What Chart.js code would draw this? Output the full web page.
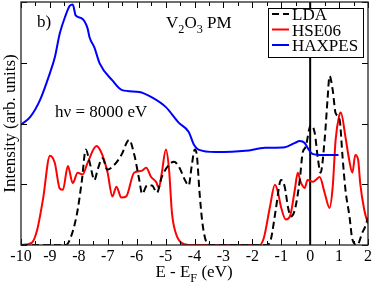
<!DOCTYPE html>
<html>
<head>
<meta charset="utf-8">
<script src="https://cdn.jsdelivr.net/npm/chart.js@4.4.1/dist/chart.umd.min.js"></script>
<style>
  html, body { margin: 0; padding: 0; background: #fff; }
</style>
</head>
<body>
<canvas id="dosChart" width="374" height="284"></canvas>
<script>
// LDA (black dashed)
const ldaE = [-10, -8.45, -8.31, -8.07, -7.90, -7.76, -7.63, -7.46, -7.35, -7.18, -7.01, -6.77, -6.53, -6.26, -6.08,
  -5.91, -5.81, -5.64, -5.47, -5.30, -5.13, -4.88, -4.71, -4.54, -4.30, -4.20, -4.10, -3.99, -3.92, -3.82,
  -3.72, -3.58, -3.44, -1.5, -1.36, -1.19, -1.01, -0.88, -0.77, -0.67, -0.53, -0.36, -0.26, -0.16, 0.02,
  0.16, 0.26, 0.36, 0.50, 0.60, 0.67, 0.78, 0.88, 1.02, 1.12, 1.22, 1.36, 1.46, 1.63, 1.80, 1.90, 2.0];
const ldaI = [0, 0, 0.09, 0.50, 1.04, 1.57, 1.37, 1.07, 1.24, 1.43, 1.24, 1.32, 1.48, 1.73, 1.48,
  1.07, 0.84, 0.98, 0.98, 0.86, 1.12, 1.32, 1.37, 1.29, 1.04, 0.98, 1.29, 1.57, 1.48, 0.83,
  0.34, 0.04, 0, 0, 0.09, 0.58, 1.07, 0.96, 0.63, 0.47, 0.58, 1.07, 1.52, 1.61, 1.97,
  1.84, 1.45, 1.19, 1.73, 2.39, 2.78, 2.55, 2.17, 2.06, 1.45, 0.91, 0.47, 0.09, 0, 0.20, 0.30, 0.45];

// HSE06 (red)
const hseE = [-10, -9.62, -9.44, -9.24, -9.0, -8.83, -8.66, -8.55, -8.38, -8.21, -8.04, -7.87, -7.70, -7.39, -7.22,
  -7.01, -6.84, -6.70, -6.53, -6.36, -6.09, -5.84, -5.67, -5.50, -5.33, -5.23, -5.13, -4.99, -4.88, -4.78,
  -4.65, -4.47, -4.2, -1.75, -1.6, -1.39, -1.22, -1.12, -1.01, -0.84, -0.70, -0.53, -0.43, -0.33, -0.19,
  -0.09, 0.09, 0.19, 0.33, 0.50, 0.67, 0.78, 0.88, 1.0, 1.06, 1.22, 1.35, 1.46, 1.56, 1.66, 1.73, 1.87, 2.0];
const hseI = [0, 0.04, 0.25, 0.75, 1.47, 1.35, 0.93, 0.91, 1.30, 1.02, 1.19, 1.16, 1.35, 1.63, 1.52,
  1.20, 0.80, 0.96, 0.78, 0.80, 1.19, 1.22, 1.27, 1.12, 1.04, 0.94, 1.19, 1.57, 1.24, 0.53,
  0.20, 0.04, 0, 0, 0.12, 0.63, 0.99, 0.88, 0.63, 0.42, 0.47, 0.91, 1.19, 1.04, 0.94,
  1.07, 1.04, 1.07, 1.12, 0.86, 0.61, 0.96, 1.73, 2.12, 2.18, 1.78, 1.40, 1.19, 1.48, 1.40, 1.02, 0.58, 0.35];

// HAXPES (blue)
const haxE = [-10, -9.68, -9.34, -9.0, -8.83, -8.66, -8.48, -8.31, -8.21, -8.11, -7.90, -7.70, -7.63, -7.46, -7.28,
  -6.84, -6.50, -5.91, -5.47, -4.99, -4.54, -4.20, -4.02, -3.86, -3.27, -2.24, -1.56, -0.87, -0.53, -0.36,
  -0.19, -0.05, 0.08, 0.43, 0.98];
const haxI = [1.98, 2.11, 2.39, 2.83, 3.09, 3.48, 3.75, 3.94, 3.96, 3.78, 3.73, 3.57, 3.42, 3.25, 2.99,
  2.71, 2.55, 2.52, 2.43, 2.27, 2.01, 1.86, 1.65, 1.57, 1.53, 1.55, 1.60, 1.61, 1.68, 1.71,
  1.68, 1.57, 1.50, 1.48, 1.48];

// Fermi level marker
const fermiE = [0, 0];
const fermiI = [0, 4];

const xTicks = [-10, -9, -8, -7, -6, -5, -4, -3, -2, -1, 0, 1, 2];

const serif = '"Liberation Serif", "DejaVu Serif", serif';

function pts(xs, ys) {
    return xs.map((v, i) => ({ x: v, y: ys[i] }));
}

// draws pieces of text, some as subscripts, starting at x
function richText(ctx, parts, x, y, size) {
    let cx = x;
    parts.forEach(p => {
        const s = p.sub ? size * 0.72 : size;
        ctx.font = s + 'px ' + serif;
        ctx.fillText(p.t, cx, p.sub ? y + size * 0.28 : y);
        cx += ctx.measureText(p.t).width;
    });
    return cx - x;
}
function richWidth(ctx, parts, size) {
    let w = 0;
    parts.forEach(p => {
        ctx.font = (p.sub ? size * 0.72 : size) + 'px ' + serif;
        w += ctx.measureText(p.t).width;
    });
    return w;
}

const decor = {
    id: 'decor',
    afterDatasetsDraw(chart) {
        const ctx = chart.ctx, a = chart.chartArea;
        const xs = chart.scales.x, ys = chart.scales.y;
        ctx.save();
        ctx.strokeStyle = '#000';
        ctx.lineWidth = 1;
        ctx.beginPath();
        for (let v = -10; v <= 2.001; v += 0.5) {
            const px = Math.round(xs.getPixelForValue(v)) + 0.5;
            const len = Math.abs(v - Math.round(v)) < 0.01 ? 6 : 4;
            ctx.moveTo(px, a.bottom); ctx.lineTo(px, a.bottom - len);
            ctx.moveTo(px, a.top); ctx.lineTo(px, a.top + len);
        }
        for (let v = 0; v <= 4; v++) {
            const py = Math.round(ys.getPixelForValue(v)) + 0.5;
            ctx.moveTo(a.left, py); ctx.lineTo(a.left + 6, py);
            ctx.moveTo(a.right, py); ctx.lineTo(a.right - 6, py);
        }
        ctx.stroke();
        ctx.lineWidth = 1.3;
        ctx.strokeStyle = '#222';
        ctx.strokeRect(a.left, a.top, a.right - a.left, a.bottom - a.top);

        // labels
        ctx.fillStyle = '#000';
        ctx.textBaseline = 'alphabetic';
        ctx.textAlign = 'left';
        ctx.font = '17px ' + serif;
        ctx.fillText('b)', 37, 27);
        richText(ctx, [{ t: 'V' }, { t: '2', sub: true }, { t: 'O' }, { t: '3', sub: true }, { t: ' PM' }], 166, 28, 17);
        ctx.font = '17px ' + serif;
        ctx.fillText('h\u03BD = 8000 eV', 55, 117);

        // x axis title with subscript
        const title = [{ t: 'E - E' }, { t: 'F', sub: true }, { t: ' (eV)' }];
        const tw = richWidth(ctx, title, 17);
        richText(ctx, title, 194 - tw / 2, 277, 17);

        // legend box
        ctx.fillStyle = '#fff';
        ctx.fillRect(268, 8, 95, 49);
        ctx.lineWidth = 1;
        ctx.strokeStyle = '#000';
        ctx.strokeRect(268.5, 8.5, 95, 49);
        const items = chart.data.datasets.filter(d => d.label);
        items.forEach((d, i) => {
            const yy = 19 + i * 15.5;
            ctx.beginPath();
            ctx.strokeStyle = d.borderColor;
            ctx.lineWidth = 2;
            ctx.setLineDash(d.borderDash || []);
            ctx.moveTo(272, yy - 5);
            ctx.lineTo(289, yy - 5);
            ctx.stroke();
            ctx.setLineDash([]);
            ctx.fillStyle = '#000';
            ctx.font = '17px ' + serif;
            ctx.fillText(d.label, 292, yy + 1);
        });
        ctx.restore();
    }
};

new Chart(document.getElementById('dosChart').getContext('2d'), {
    type: 'scatter',
    data: {
        datasets: [
            { label: '', data: pts(fermiE, fermiI), borderColor: '#000', borderWidth: 2, order: 4 },
            { label: 'LDA', data: pts(ldaE, ldaI), borderColor: '#000', borderWidth: 2, borderDash: [7, 4], order: 2 },
            { label: 'HSE06', data: pts(hseE, hseI), borderColor: '#ff0000', borderWidth: 2, order: 3 },
            { label: 'HAXPES', data: pts(haxE, haxI), borderColor: '#0000ff', borderWidth: 2, order: 1 }
        ].map(d => Object.assign(d, { showLine: true, pointRadius: 0, fill: false, cubicInterpolationMode: 'monotone' }))
    },
    options: {
        responsive: false,
        animation: false,
        events: [],
        layout: { padding: { left: 0, right: 4, top: 2, bottom: 0 } },
        plugins: { legend: { display: false }, tooltip: { enabled: false } },
        scales: {
            x: {
                type: 'linear', min: -10, max: 2,
                afterFit: s => { s.height = 39; },
                afterBuildTicks: s => { s.ticks = xTicks.map(v => ({ value: v })); },
                grid: { display: false, drawTicks: false },
                border: { display: false },
                ticks: { color: '#000', font: { family: serif, size: 16 }, padding: 2, maxRotation: 0, autoSkip: false,
                         callback: v => String(v) }
            },
            y: {
                type: 'linear', min: 0, max: 4,
                afterFit: s => { s.width = 21; },
                grid: { display: false, drawTicks: false },
                border: { display: false },
                ticks: { display: false },
                title: { display: true, text: 'Intensity (arb. units)', color: '#000',
                         font: { family: serif, size: 17 }, padding: 0 }
            }
        }
    },
    plugins: [decor]
});
</script>
</body>
</html>
